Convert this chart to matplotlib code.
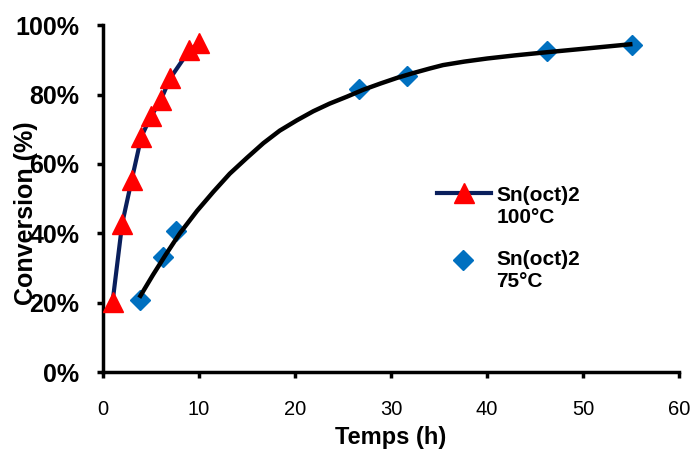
import matplotlib
matplotlib.use("Agg")
import matplotlib.pyplot as plt
from matplotlib.lines import Line2D
from matplotlib.ticker import FuncFormatter

# Sn(oct)2 at 100 C (red triangles, joined by a navy line)
t_100 = [1, 2, 3, 4, 5, 6, 7, 9, 10]
conv_100 = [20.2, 42.8, 55.5, 67.9, 73.7, 78.3, 84.7, 92.8, 94.8]

# Sn(oct)2 at 75 C (blue diamonds)
t_75 = [3.9, 6.2, 7.6, 26.7, 31.7, 46.2, 55.1]
conv_75 = [20.8, 33.2, 40.8, 81.5, 85.3, 92.5, 94.2]

# black fitted curve for the 75 C series
fit_t = [3.9, 5.2, 6.5, 8.0, 9.8, 11.5, 13.2, 15.0, 16.7, 18.4, 20.2, 21.9,
         23.6, 25.4, 27.1, 28.9, 30.6, 32.3, 34.0, 35.4, 37.6, 40.0, 42.9,
         45.8, 50.0, 54.9]
fit_conv = [22.0, 28.0, 33.7, 40.0, 46.5, 52.0, 57.2, 61.8, 66.0, 69.6,
            72.6, 75.2, 77.4, 79.4, 81.4, 83.2, 84.8, 86.2, 87.5, 88.5,
            89.5, 90.4, 91.3, 92.1, 93.2, 94.5]

x_ticks = [0, 10, 20, 30, 40, 50, 60]
y_ticks = [0, 20, 40, 60, 80, 100]

plt.rcParams['font.family'] = ['Liberation Sans', 'DejaVu Sans']

fig = plt.figure(figsize=(6.91, 4.5), dpi=100)
ax = fig.add_axes([0.149, 0.173, 0.834, 0.771])

navy = '#0a1f5c'
red = '#ff0000'
blue = '#0070c0'

ax.plot(t_100, conv_100, color=navy, linewidth=3, marker='^',
        markersize=14, markerfacecolor=red, markeredgecolor=red, zorder=3)
ax.plot(fit_t, fit_conv, color='black', linewidth=3.2, zorder=2)
ax.plot(t_75, conv_75, linestyle='none', marker='D', markersize=10,
        color=blue, zorder=1)

ax.set_xlim(0, 60)
ax.set_ylim(0, 100)
ax.set_xticks(x_ticks)
ax.set_yticks(y_ticks)
ax.yaxis.set_major_formatter(FuncFormatter(lambda v, p: '%d%%' % v))
for lab in ax.get_xticklabels():
    lab.set_fontsize(14.5)
for lab in ax.get_yticklabels():
    lab.set_fontweight('bold')
    lab.set_fontsize(18)

ax.spines['top'].set_visible(False)
ax.spines['right'].set_visible(False)
ax.spines['left'].set_linewidth(2.5)
ax.spines['bottom'].set_linewidth(2.5)
ax.tick_params(axis='both', direction='out', length=4, width=2.5)
ax.tick_params(axis='x', pad=16)
ax.tick_params(axis='y', pad=13)

ax.set_xlabel('Temps (h)', fontsize=17, fontweight='bold', labelpad=5)
# y label sits over the tick labels, as in the original
fig.text(0.038, 0.527, 'Conversion (%)', rotation=90, fontsize=18,
         fontweight='bold', ha='center', va='center')

# legend, drawn by hand so the symbol sits on the first text line
fig.add_artist(Line2D([0.632, 0.711], [0.571, 0.571], color=navy, linewidth=3,
                      transform=fig.transFigure))
fig.add_artist(Line2D([0.671], [0.571], marker='^', markersize=14,
                      color=red, linestyle='none', transform=fig.transFigure))
fig.add_artist(Line2D([0.670], [0.422], marker='D', markersize=10,
                      color=blue, linestyle='none', transform=fig.transFigure))
fig.text(0.718, 0.542, 'Sn(oct)2\n100°C', fontsize=15, fontweight='bold',
         ha='left', va='center', linespacing=1.2)
fig.text(0.718, 0.398, 'Sn(oct)2\n75°C', fontsize=15, fontweight='bold',
         ha='left', va='center', linespacing=1.2)

fig.savefig('out.png', dpi=100)
